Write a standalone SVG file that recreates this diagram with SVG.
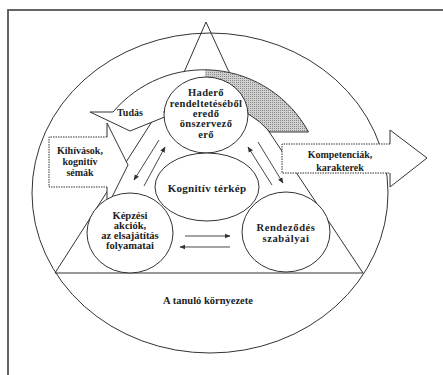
<svg xmlns="http://www.w3.org/2000/svg" width="443" height="375" viewBox="0 0 443 375">
<defs>
<style>
.ln{fill:none;stroke:#333;stroke-width:1}
.wf{fill:#fff;stroke:#333;stroke-width:1}
.wn{fill:#fff;stroke:none}
.dot{fill:none;stroke:#333;stroke-width:1;stroke-dasharray:1.5 1}
text{font-family:"Liberation Serif","Times New Roman",serif;font-weight:bold;font-size:10px;fill:#222;text-anchor:middle}
.t105{font-size:10.5px}
.sp{font-size:10.5px;letter-spacing:0.35px}
.con{stroke:#333;stroke-width:0.9;fill:none;marker-end:url(#ah)}
</style>
<marker id="ah" viewBox="0 0 10 10" refX="9" refY="5" markerWidth="6" markerHeight="6" markerUnits="userSpaceOnUse" orient="auto"><path d="M0,1 L10,5 L0,9 Z" fill="#333"/></marker>
<pattern id="halftone" width="2" height="2" patternUnits="userSpaceOnUse"><rect width="2" height="2" fill="#d0d0d0"/><rect width="1" height="1" fill="#8a8a8a"/></pattern>
</defs>
<rect width="443" height="375" fill="#fff"/>
<rect x="8" y="10" width="460" height="400" fill="none" stroke="#555" stroke-width="1.8"/>
<g id="environment">
<ellipse cx="210" cy="193" rx="178" ry="160" class="wf"/>
<text x="208" y="303.5" class="t105">A tanuló környezete</text>
</g>
<g id="triangle">
<path class="ln" d="M185,70 L206,22 L228,70 M185,70 L55,273 L363,273 L228,70"/>
</g>
<g id="tudas">
<path class="wn" d="M113,112 A119,119 0 0 1 308.5,132 L270,132 A87,87 0 0 0 163.5,112 L177,112 L130,131 L90,112 Z"/>
<path fill="url(#halftone)" d="M205,70 A119,119 0 0 1 308.5,132 L270,132 A87,87 0 0 0 204.5,102 Z"/>
<path class="ln" d="M113,112 A119,119 0 0 1 308.5,132 L270,132 A87,87 0 0 0 163.5,112 L177,112 L130,131 L90,112 Z"/>
<text x="130" y="116">Tudás</text>
</g>
<g id="kihivasok">
<path class="wn" d="M49,137 L107,137 L107,123 L128,165 L107,207 L107,187 L49,187 Z"/>
<path class="dot" d="M107,137 L49,137 L49,187 L107,187"/>
<path class="ln" d="M107,137 L107,123 L128,165 L107,207 L107,187"/>
<text x="80" y="153.5">Kihívások,</text>
<text x="80" y="164.5">kognitív</text>
<text x="80" y="175.5">sémák</text>
</g>
<g id="kompetenciak">
<path class="wn" d="M282,144 L390,144 L390,130 L427,158 L390,187 L390,173 L282,173 Z"/>
<path class="dot" d="M390,144 L282,144 L282,173 L390,173"/>
<path class="ln" d="M390,144 L390,130 L427,158 L390,187 L390,173"/>
<text x="340" y="157.5">Kompetenciák,</text>
<text x="340" y="170.5">karakterek</text>
</g>
<g id="hadero">
<ellipse cx="206" cy="115" rx="42" ry="38" class="wf"/>
<text x="206" y="96" class="sp">Haderő</text>
<text x="206" y="106.5" class="sp">rendeltetéséből</text>
<text x="206" y="116.5" class="sp">eredő</text>
<text x="206" y="127" class="sp">önszervező</text>
<text x="206" y="137.5" class="sp">erő</text>
</g>
<g id="kognitiv">
<ellipse cx="207" cy="187" rx="52" ry="34" class="wf"/>
<text x="207" y="191.5" style="font-size:11px;letter-spacing:0.3px">Kognitív térkép</text>
</g>
<g id="kepzesi">
<ellipse cx="130" cy="233" rx="43" ry="40" class="wf"/>
<text x="130" y="218.5" class="t105">Képzési</text>
<text x="130" y="228.5" class="t105">akciók,</text>
<text x="130" y="238.5" class="t105">az elsajátítás</text>
<text x="130" y="248.5" class="t105">folyamatai</text>
</g>
<g id="rendezodes">
<ellipse cx="286" cy="232" rx="44" ry="40" class="wf"/>
<text x="286" y="230.5" style="font-size:10.5px;letter-spacing:0.6px">Rendeződés</text>
<text x="286" y="242" style="font-size:10.5px;letter-spacing:0.6px">szabályai</text>
</g>
<g id="connectors">
<line class="con" x1="159" y1="140" x2="134" y2="180"/>
<line class="con" x1="144" y1="186" x2="165" y2="147"/>
<line class="con" x1="272" y1="185" x2="248" y2="147"/>
<line class="con" x1="258" y1="142" x2="283" y2="183"/>
<line class="con" x1="185" y1="236" x2="230" y2="236"/>
<line class="con" x1="230" y1="247" x2="180" y2="247"/>
</g>
</svg>
